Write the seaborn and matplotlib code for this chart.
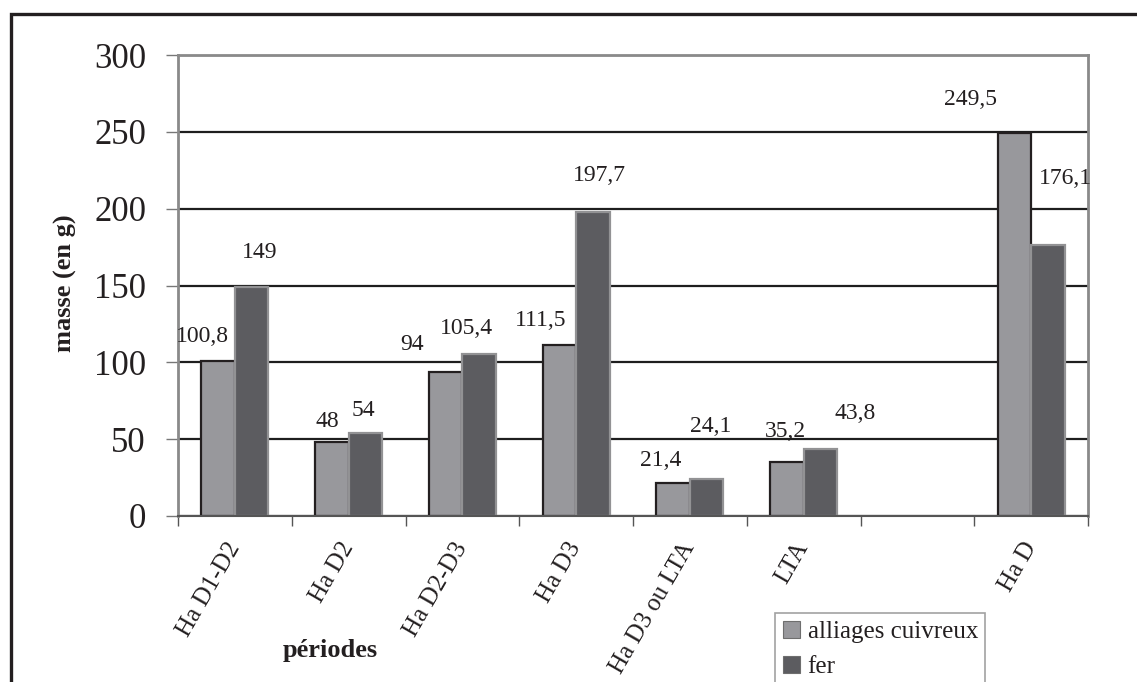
import numpy as np
import pandas as pd
import matplotlib
matplotlib.use("Agg")
import matplotlib.pyplot as plt
from matplotlib.patches import Rectangle, Patch
import seaborn as sns

# Masses per period (g)
categories = ["Ha D1-D2", "Ha D2", "Ha D2-D3", "Ha D3", "Ha D3 ou LTA", "LTA", "", "Ha D"]
alliages_cuivreux = [100.8, 48, 94, 111.5, 21.4, 35.2, np.nan, 249.5]
fer = [149, 54, 105.4, 197.7, 24.1, 43.8, np.nan, 176.1]
series_names = ["alliages cuivreux", "fer"]

# label placement around bar tops, in pixels (dx, dy of the label centre)
label_offsets = {
    "alliages cuivreux": [(-16, 25), (-5, 21), (-34, 27), (-19, 24), (-12, 23), (-1, 30), (-44, 33)],
    "fer": [(8, 35), (-2, 23), (-13, 26), (7, 37), (4, 52), (35, 35), (18, 67)],
}

df = pd.DataFrame({
    "periode": categories * 2,
    "masse": alliages_cuivreux + fer,
    "serie": [series_names[0]] * len(categories) + [series_names[1]] * len(categories),
}).dropna()

sns.set_style("white")
plt.rcParams["font.family"] = ["Liberation Serif", "DejaVu Serif"]
plt.rcParams["text.color"] = "#231f20"

W, H = 1137, 682
fig = plt.figure(figsize=(W / 100, H / 100), dpi=100)
ax = fig.add_axes([178 / W, 1 - 516 / H, (1088 - 178) / W, (516 - 55) / H])

fills = {"alliages cuivreux": "#98989c", "fer": "#5c5c60"}
edges = {"alliages cuivreux": "#231f20", "fer": "#929294"}

sns.barplot(data=df, x="periode", y="masse", hue="serie", order=categories,
            hue_order=series_names, palette=fills, width=0.59, gap=0,
            saturation=1, ax=ax, legend=False, errorbar=None)

for name, cont in zip(series_names, ax.containers):
    for bar in cont:
        bar.set_edgecolor(edges[name])
        bar.set_linewidth(1.6)
    px = 0.72  # points per pixel at 100 dpi
    for bar, (dx, dy) in zip(cont, label_offsets[name]):
        v = bar.get_height()
        txt = f"{v:g}".replace(".", ",")
        ax.annotate(txt, xy=(bar.get_x() + bar.get_width() / 2, v),
                    xytext=(dx * px, dy * px), textcoords="offset points",
                    ha="center", va="center", fontsize=17, color="#231f20",
                    annotation_clip=False)

ax.set_ylim(0, 300)
ax.set_xlim(-0.5, len(categories) - 0.5)
ax.set_yticks(np.arange(0, 301, 50))
ax.yaxis.grid(True, color="#1e1e1e", linewidth=1.6)
ax.xaxis.grid(False)
ax.set_axisbelow(True)

ax.tick_params(axis="y", which="major", left=True, length=9, width=1,
               color="#777777", labelsize=25, pad=14, labelcolor="#231f20")
ax.set_xticks(np.arange(len(categories)))
ax.set_xticklabels(categories, rotation=60, ha="right", va="center",
                   rotation_mode="anchor", fontsize=18, color="#231f20")
ax.tick_params(axis="x", which="major", length=0, pad=20)
ax.set_xticks(np.arange(len(categories) + 1) - 0.5, minor=True)
ax.tick_params(axis="x", which="minor", bottom=True, length=7, width=1, color="#555555")

for side in ["left", "right", "top"]:
    ax.spines[side].set_color("#8a8a8a")
    ax.spines[side].set_linewidth(2)
ax.spines["bottom"].set_color("#555555")
ax.spines["bottom"].set_linewidth(1.5)

ax.set_xlabel("")
ax.set_ylabel("")
fig.text(65 / W, 1 - 283 / H, "masse (en g)", rotation=90, ha="center", va="center",
         fontsize=19, fontweight="bold")
fig.text(330 / W, 1 - 650 / H, "périodes", ha="center", va="center",
         fontsize=19, fontweight="bold")

handles = [Patch(facecolor=fills[n], edgecolor="#6e6e6e", linewidth=0.8) for n in series_names]
leg = fig.legend(handles, series_names, loc="upper left",
                 bbox_to_anchor=(775 / W, 1 - 613 / H), bbox_transform=fig.transFigure,
                 fontsize=18, frameon=True, fancybox=False, borderaxespad=0,
                 borderpad=0.3, labelspacing=0.5, handlelength=0.7, handleheight=0.7,
                 handletextpad=0.3)
leg.get_frame().set_edgecolor("#8a8a8a")
leg.get_frame().set_linewidth(1.2)

# outer frame around the whole figure
fig.patches.append(Rectangle((10.5 / W, -0.2), 1.2, 1.2 - 14 / H, transform=fig.transFigure,
                             fill=False, edgecolor="#231f20", linewidth=2.4))

fig.savefig("out.png", dpi=100)
